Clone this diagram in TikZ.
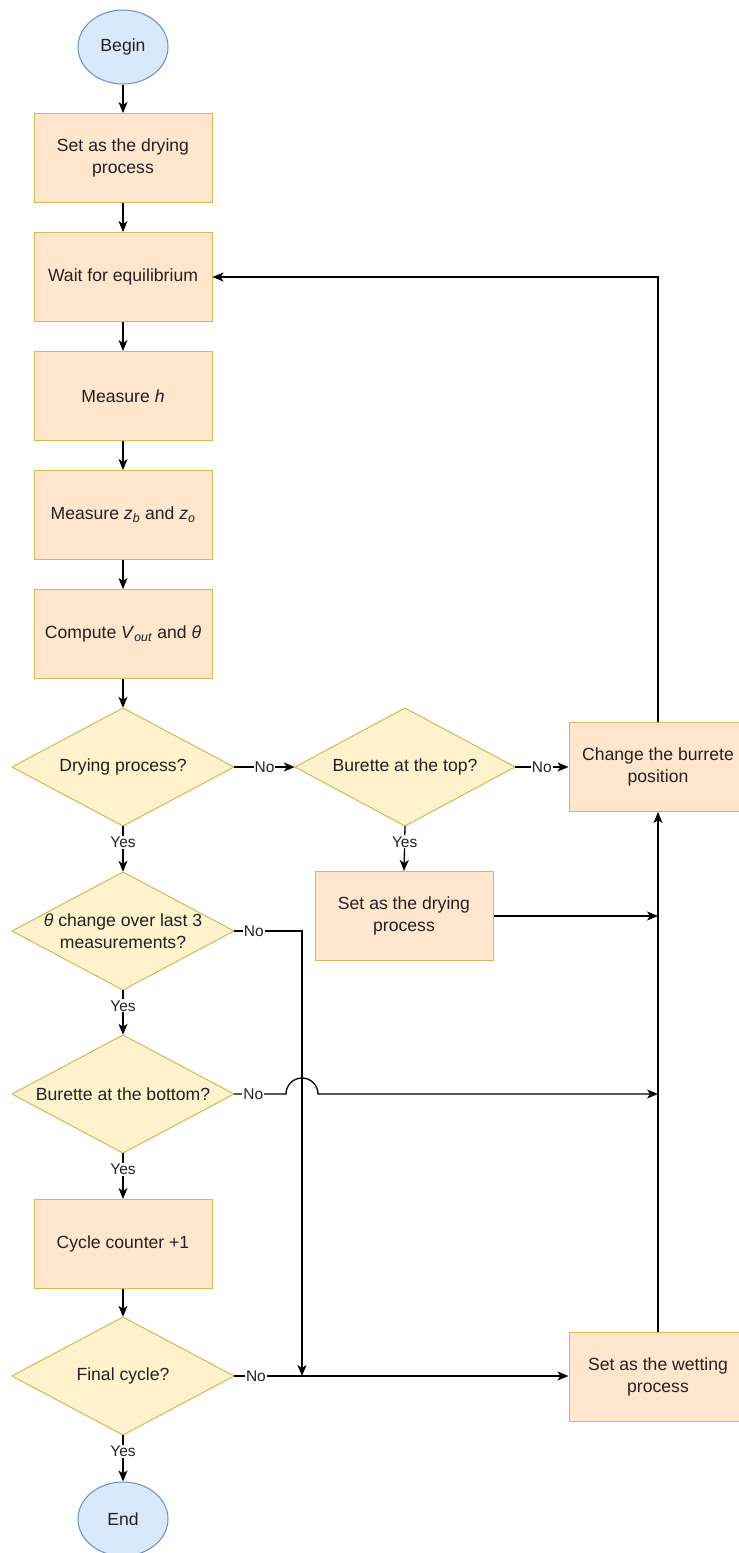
\documentclass[tikz,border=0pt]{standalone}
\usepackage{fontspec}
\setmainfont{Liberation Sans}
\usetikzlibrary{shapes.geometric,arrows.meta,calc}
\definecolor{boxfill}{HTML}{FFE6CC}
\definecolor{boxline}{HTML}{D6B656}
\definecolor{decfill}{HTML}{FFF2CC}
\definecolor{decline}{HTML}{D6B656}
\definecolor{termfill}{HTML}{DAE8FC}
\definecolor{termline}{HTML}{6C8EBF}
\definecolor{txt}{HTML}{222222}
\begin{document}
\begin{tikzpicture}[x=1pt,y=-1pt,
 every node/.style={font=\fontsize{17.6}{22}\selectfont, text=txt},
 procbox/.style={rectangle, draw=boxline, fill=boxfill, line width=1pt, minimum width=178pt, minimum height=89pt, inner sep=0pt, align=center},
 term/.style={ellipse, draw=termline, fill=termfill, line width=1pt, minimum width=90pt, minimum height=74pt, inner sep=0pt},
 decbox/.style={rectangle, minimum width=222pt, minimum height=118pt, inner sep=0pt, align=center, path picture={
   \path[fill=decfill, draw=decline, line width=1pt] (path picture bounding box.west) -- (path picture bounding box.north) -- (path picture bounding box.east) -- (path picture bounding box.south) -- cycle;}},
 flow/.style={line width=1.3pt, -{Stealth[length=11pt,width=9pt,inset=3pt]}},
 lbl/.style={font=\fontsize{15.5}{18}\selectfont, fill=white, inner sep=1pt},
]
\useasboundingbox (0,0) rectangle (739,1553);

\node[term] (begin) at (123,47) {Begin};
\node[procbox] (s1) at (123,158) {Set as the drying\\process};
\node[procbox] (s2) at (123,277) {Wait for equilibrium};
\node[procbox] (s3) at (123,396) {Measure \textit{h}};
\node[procbox] (s4) at (123,515) {Measure \textit{z}\textsubscript{\textit{b}} and \textit{z}\textsubscript{\textit{o}}};
\node[procbox] (s5) at (123,634) {Compute \textit{V}\textsubscript{\textit{out}} and \textit{θ}};
\node[decbox] (d1) at (123,767) {Drying process?};
\node[decbox] (d2) at (123,931) {\textit{θ} change over last 3\\measurements?};
\node[decbox] (d3) at (123,1094) {Burette at the bottom?};
\node[procbox] (s6) at (123,1244) {Cycle counter +1};
\node[decbox] (d4) at (123,1376) {Final cycle?};
\node[term] (end) at (123,1519) {End};
\node[decbox, minimum width=220pt] (d5) at (405,767) {Burette at the top?};
\node[procbox] (s7) at (404,916) {Set as the drying\\process};
\node[procbox] (s8) at (658,767) {Change the burrete\\position};
\node[procbox] (s9) at (658,1377) {Set as the wetting\\process};

\coordinate (vx) at (302,0);

\draw[flow] (begin) -- (s1);
\draw[flow] (s1) -- (s2);
\draw[flow] (s2) -- (s3);
\draw[flow] (s3) -- (s4);
\draw[flow] (s4) -- (s5);
\draw[flow] (s5) -- (d1);
\draw[flow] (d1) -- node[lbl,pos=0.35]{Yes} (d2);
\draw[flow] (d2) -- node[lbl,pos=0.35]{Yes} (d3);
\draw[flow] (d3) -- node[lbl,pos=0.35]{Yes} (s6);
\draw[flow] (s6) -- (d4);
\draw[flow] (d4) -- node[lbl,pos=0.35]{Yes} (end);
\draw[flow] (d1.east) -- node[lbl]{No} (d5.west);
\draw[flow] (d5.east) -- node[lbl]{No} (d5.east -| s8.west);
\draw[flow] (d5.south) -- node[lbl,pos=0.35]{Yes} (s7.north);
\draw[flow] (s7.east) -- (s7.east -| s8.south);
\draw[flow] (s9.north) -- (s8.south);
\draw[flow] (s8.north) |- (s2.east);
\draw[flow] (d2.east) -- node[lbl,pos=0.29]{No} (d2.east -| vx) -- (vx |- d4.east);
\draw[flow] (d3.east) -- node[lbl,pos=0.37]{No} ($(d3.east -| vx)+(-16,0)$) arc[start angle=180,end angle=360,radius=16] -- (d3.east -| s8.south);
\draw[flow] (d4.east) -- node[lbl,pos=0.065]{No} (d4.east -| s9.west);
\end{tikzpicture}
\end{document}
